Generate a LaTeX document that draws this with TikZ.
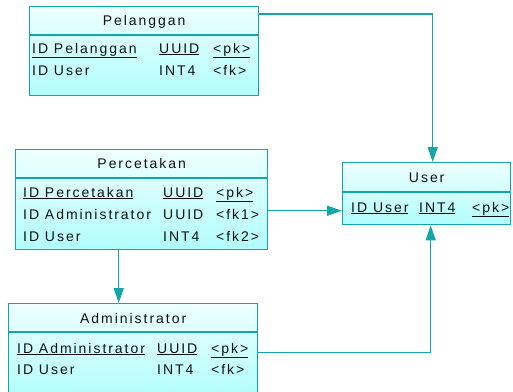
\documentclass[tikz,border=0pt]{standalone}
\usepackage{fontspec}
\setmainfont[LetterSpace=14]{Liberation Sans}
\usetikzlibrary{arrows.meta}
\definecolor{erline}{HTML}{12A6A6}
\definecolor{ertext}{HTML}{101010}
\definecolor{erTop}{HTML}{EEFFFF}
\definecolor{erBot}{HTML}{B2FDFD}

\begin{document}
\begin{tikzpicture}[x=1pt,y=-1pt,
    font=\fontsize{14}{17}\selectfont,
    table/.style={%
      draw=erline,
      line width=1.4pt,
      rectangle,
      anchor=north west,
      inner sep=0pt,
      top color=erTop,
      bottom color=erBot,
    },
    title/.style={anchor=base, inner sep=0pt, text=ertext},
    cell/.style={anchor=base west, inner sep=0pt, text=ertext},
    divider/.style={draw=erline, line width=1.4pt},
    fk/.style={draw=erline, line width=1.4pt, -{Triangle[length=15pt,width=10pt]}},
  ]
    \useasboundingbox (0,0) rectangle (513,391);

    % tables
    \node [table, minimum width=229pt, minimum height=89pt] (pel) at (29,6) {};
    \node [table, minimum width=252pt, minimum height=100pt] (prc) at (15,149) {};
    \node [table, minimum width=249pt, minimum height=92pt] (adm) at (8,303) {};
    \node [table, minimum width=168pt, minimum height=62pt] (usr) at (342,162) {};

    \draw [divider] (pel.west |- 0,35) -- (pel.east |- 0,35);
    \draw [divider] (prc.west |- 0,178) -- (prc.east |- 0,178);
    \draw [divider] (adm.west |- 0,332) -- (adm.east |- 0,332);
    \draw [divider] (usr.west |- 0,192) -- (usr.east |- 0,192);

    % Pelanggan
    \node [title] (pelT) at (pel.north |- 0,25) {Pelanggan};
    \node [cell] (pel1a) at (32,53) {\underline{ID Pelanggan}};
    \node [cell] (pel1b) at (159,53) {\underline{UUID}};
    \node [cell] (pel1c) at (213,53) {\underline{<pk>}};
    \node [cell] (pel2a) at (32,75) {ID User};
    \node [cell] (pel2b) at (159,75) {INT4};
    \node [cell] (pel2c) at (213,75) {<fk>};

    % Percetakan
    \node [title] (prcT) at (prc.north |- 0,168) {Percetakan};
    \node [cell] (prc1a) at (23,197) {\underline{ID Percetakan}};
    \node [cell] (prc1b) at (163,197) {\underline{UUID}};
    \node [cell] (prc1c) at (216,197) {\underline{<pk>}};
    \node [cell] (prc2a) at (23,219) {ID Administrator};
    \node [cell] (prc2b) at (163,219) {UUID};
    \node [cell] (prc2c) at (216,219) {<fk1>};
    \node [cell] (prc3a) at (23,241) {ID User};
    \node [cell] (prc3b) at (163,241) {INT4};
    \node [cell] (prc3c) at (216,241) {<fk2>};

    % Administrator
    \node [title] (admT) at (adm.north |- 0,323) {Administrator};
    \node [cell] (adm1a) at (17,353) {\underline{ID Administrator}};
    \node [cell] (adm1b) at (157,353) {\underline{UUID}};
    \node [cell] (adm1c) at (211,353) {\underline{<pk>}};
    \node [cell] (adm2a) at (17,374) {ID User};
    \node [cell] (adm2b) at (157,374) {INT4};
    \node [cell] (adm2c) at (211,374) {<fk>};

    % User
    \node [title] (usrT) at (usr.north |- 0,182) {User};
    \node [cell] (usr1a) at (351,212) {\underline{ID User}};
    \node [cell] (usr1b) at (419,212) {\underline{INT4}};
    \node [cell] (usr1c) at (472,212) {\underline{<pk>}};

    % references
    \draw [fk] ([yshift=-8pt]pel.north east) -| ([xshift=6pt]usr.north);
    \draw [fk] ([yshift=-11pt]prc.east) -- ([yshift=-11pt]prc.east -| usr.west);
    \draw [fk] ([xshift=-23pt]prc.south) -- ([xshift=-23pt]prc.south |- adm.north);
    \draw [fk] ([yshift=-3pt]adm.east) -| ([xshift=4pt]usr.south);
\end{tikzpicture}
\end{document}
